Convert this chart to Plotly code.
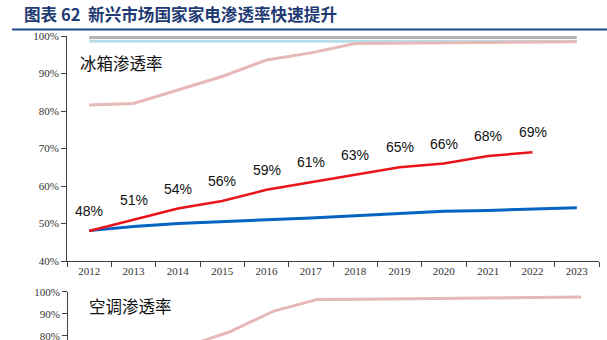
import plotly.graph_objects as go

W, H = 607, 340

years = ["2012", "2013", "2014", "2015", "2016", "2017", "2018", "2019", "2020", "2021", "2022", "2023"]

# Top panel: refrigerator penetration
fridge_gray = [99.6] * 12
fridge_lightblue = [98.6] * 12
fridge_pink = [81.6, 82.0, 85.6, 89.2, 93.6, 95.5, 98.0, 98.1, 98.2, 98.3, 98.4, 98.5]
fridge_red = [48, 51, 54, 56, 59, 61, 63, 65, 66, 68, 69]
fridge_blue = [48.1, 49.2, 50.0, 50.4, 51.0, 51.5, 52.1, 52.6, 53.3, 53.5, 53.9, 54.2]

# Bottom panel: air-conditioner penetration
ac_pink = [62, 68, 75, 81.8, 91.2, 96.5, 96.6, 96.8, 97.0, 97.2, 97.4, 97.6]

title_text = "图表 62  新兴市场国家家电渗透率快速提升"
fridge_label = "冰箱渗透率"
ac_label = "空调渗透率"

fig = go.Figure()

def line(x, y, color, width, xa="x", ya="y"):
    fig.add_trace(go.Scatter(x=x, y=y, mode="lines", line=dict(color=color, width=width),
                             xaxis=xa, yaxis=ya, hoverinfo="skip", showlegend=False))

line(years, fridge_gray, "#B3B3B3", 3)
line(years, fridge_lightblue, "#B7DEE8", 3)
line(years, fridge_pink, "#E6B8B7", 3)
line(years, fridge_blue, "#0563C1", 3)
line(years[:len(fridge_red)], fridge_red, "#E8141C", 2.5)
line(years, ac_pink, "#E6B8B7", 3, "x2", "y2")

for i, v in enumerate(fridge_red):
    fig.add_annotation(x=i, y=v, xref="x", yref="y", text=f"{v}%", showarrow=False,
                       xanchor="center", yanchor="middle",
                       yshift=20, font=dict(family="Liberation Sans", size=14, color="#111111"))

axis_font = dict(family="Liberation Serif", size=11, color="#333333")
x0, x1 = 67 / W, 599 / W

fig.update_layout(
    width=W, height=H,
    margin=dict(l=0, r=0, t=0, b=0, autoexpand=False),
    paper_bgcolor="white", plot_bgcolor="white",
    showlegend=False,
    xaxis=dict(domain=[x0, x1], type="category", range=[-0.5, 11.5], tickson="boundaries",
               ticks="outside", ticklen=5, tickcolor="#404040", showline=True, linecolor="#404040",
               linewidth=1, showgrid=False, zeroline=False, tickfont=axis_font, anchor="y",
               automargin=False),
    yaxis=dict(domain=[1 - 261 / H, 1 - 36 / H], range=[40, 100], dtick=10, ticksuffix="%",
               ticks="outside", ticklen=5, tickcolor="#404040", showline=True, linecolor="#404040",
               linewidth=1, showgrid=False, zeroline=False, tickfont=axis_font, anchor="x",
               automargin=False, ticklabeloverflow="allow"),
    xaxis2=dict(domain=[76 / W, 603 / W], type="category", range=[-0.5, 11.5], visible=False,
                anchor="y2", automargin=False),
    yaxis2=dict(domain=[0, 1 - 291.7 / H], range=[78.05, 100], dtick=10, ticksuffix="%",
                ticks="outside", ticklen=5, tickcolor="#404040", showline=True, linecolor="#404040",
                linewidth=1, showgrid=False, zeroline=False, tickfont=axis_font,
                anchor="free", position=x0, automargin=False, ticklabeloverflow="allow"),
)

fig.add_annotation(x=22 / W, y=1 - 14 / H, xref="paper", yref="paper", xanchor="left", yanchor="middle",
                   text=f"<b>{title_text}</b>", showarrow=False,
                   font=dict(family="Noto Sans CJK SC", size=16.6, color="#1F3B73"))
fig.add_shape(type="line", xref="paper", yref="paper", x0=12 / W, x1=1, y0=1 - 29.5 / H, y1=1 - 29.5 / H,
              line=dict(color="#1F4E8C", width=2))
fig.add_annotation(x=121 / W, y=1 - 63 / H, xref="paper", yref="paper", text=fridge_label, showarrow=False,
                   xanchor="center", yanchor="middle",
                   font=dict(family="Noto Sans CJK SC", size=16.5, color="#111111"))
fig.add_annotation(x=130 / W, y=1 - 306 / H, xref="paper", yref="paper", text=ac_label, showarrow=False,
                   xanchor="center", yanchor="middle",
                   font=dict(family="Noto Sans CJK SC", size=16.5, color="#111111"))

fig.write_html("out.html")
